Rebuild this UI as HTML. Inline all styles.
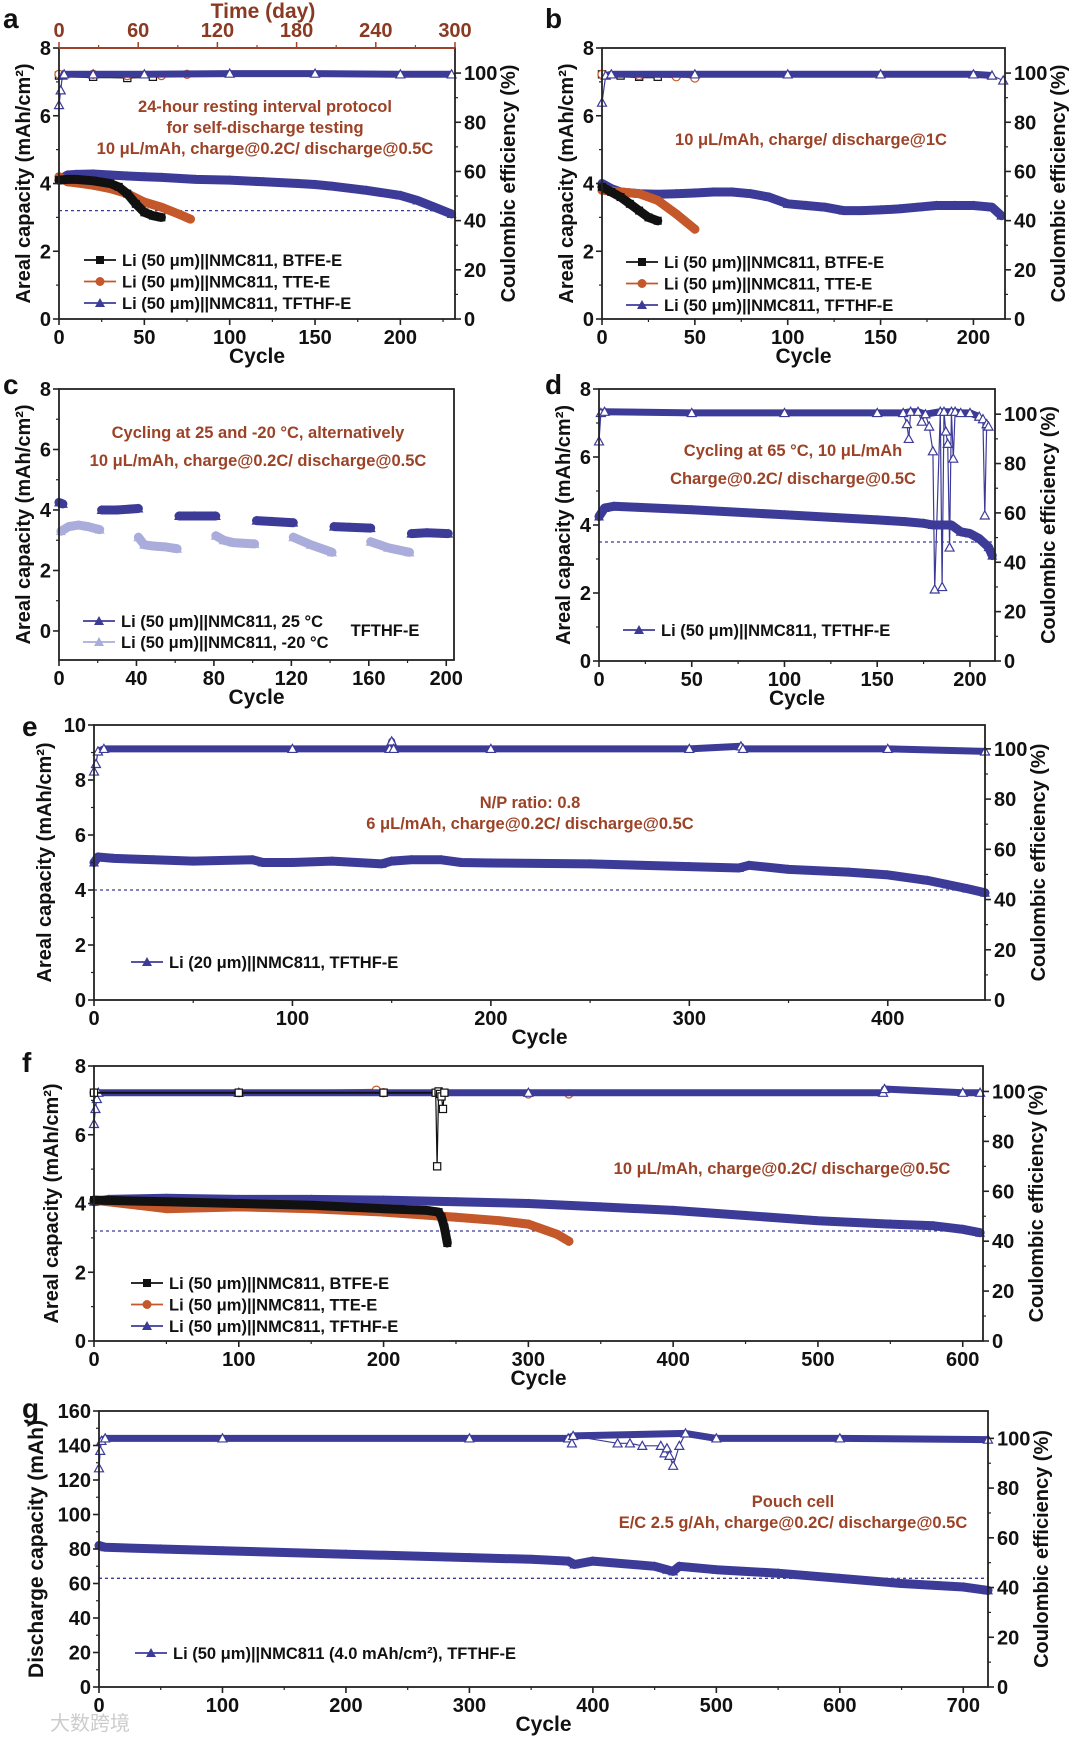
<!DOCTYPE html>
<html><head><meta charset="utf-8">
<style>
html,body{margin:0;padding:0;background:#fff;}
svg{display:block;font-family:"Liberation Sans","Noto Sans CJK SC",sans-serif;}
</style></head>
<body>
<svg id="fig" xmlns="http://www.w3.org/2000/svg" width="1080" height="1737" viewBox="0 0 1080 1737"></svg>
<script>
// ---------- DATA ----------
// panel a
const aT_c=[0,5,10,20,30,40,50,60,80,100,120,140,150,160,180,200,210,220,230];
const aT_v=[4.1,4.25,4.27,4.28,4.25,4.22,4.2,4.18,4.12,4.1,4.05,4.0,3.97,3.92,3.8,3.65,3.5,3.3,3.1];
const aB_c=[0,5,10,20,30,35,40,45,50,55,60];
const aB_v=[4.1,4.12,4.12,4.08,4.0,3.9,3.7,3.4,3.15,3.05,3.0];
const aE_c=[0,5,10,20,30,40,50,60,70,77];
const aE_v=[4.2,4.05,4.02,3.95,3.85,3.7,3.45,3.3,3.1,2.95];
const aCT_c=[0,1,2,3,20,50,100,150,200,230];
const aCT_v=[87,93,99,99.5,99.5,99.5,99.8,99.8,99.5,99.5];
const aCB_c=[0,20,40,55];
const aCB_v=[99,98.5,98,98.5];
const aCE_c=[0,20,40,60,75];
const aCE_v=[99.5,99.5,99,99,99.5];
const aTimeTicks=[0,60,120,180,240,300];
// panel b
const bT_c=[0,5,10,20,30,40,50,60,70,80,90,100,110,120,130,140,150,160,170,180,190,200,210,215];
const bT_v=[4.0,3.85,3.75,3.7,3.68,3.7,3.72,3.75,3.75,3.7,3.6,3.4,3.35,3.3,3.2,3.2,3.22,3.25,3.3,3.35,3.35,3.35,3.3,3.05];
const bB_c=[0,5,10,15,20,25,30];
const bB_v=[3.9,3.75,3.6,3.4,3.2,3.0,2.9];
const bE_c=[0,10,20,30,40,50];
const bE_v=[3.8,3.75,3.7,3.5,3.1,2.65];
const bCT_c=[0,2,5,50,100,150,200,210,216];
const bCT_v=[88,99,99.5,99.5,99.5,99.5,99.5,99,97];
const bCB_c=[0,10,20,30];
const bCB_v=[99.5,99,98.5,98.5];
const bCE_c=[0,20,40,50];
const bCE_v=[99.5,99,98.5,98];
// panel c (null = break between temperature blocks)
const cD_c=[0,2,null,22,30,41,null,62,70,81,null,102,110,121,null,142,150,161,null,182,190,201];
const cD_v=[4.25,4.2,null,4.0,4.0,4.05,null,3.8,3.8,3.8,null,3.65,3.62,3.58,null,3.45,3.43,3.4,null,3.22,3.25,3.22];
const cL_c=[1,5,10,15,21,null,41,44,50,55,61,null,81,85,90,95,101,null,121,130,141,null,161,170,181];
const cL_v=[3.3,3.45,3.5,3.45,3.35,null,3.1,2.85,2.8,2.78,2.72,null,3.15,3.0,2.92,2.9,2.88,null,3.1,2.85,2.6,null,2.95,2.75,2.6];
// panel d
const dT_c=[0,3,8,20,50,100,150,165,175,180,185,190,195,200,205,210,212];
const dT_v=[4.25,4.5,4.55,4.52,4.45,4.3,4.15,4.1,4.05,4.0,4.0,4.0,3.8,3.75,3.6,3.35,3.1];
const dCT_c=[0,1,3,50,100,150,164,166,167,168,172,174,176,178,180,181,184,185,186,187,188,189,190,191,192,195,200,205,207,208,209,210];
const dCT_v=[89,100.5,101,100.5,100.5,100.5,100.5,96,90,101,101,97,100,95,85,29,101,30,101,93,88,46,101,82,101,100.5,100.5,99,98,59,96,95];
// panel e
const eT_c=[0,2,10,30,50,80,85,100,120,145,150,160,175,185,200,250,300,325,330,350,380,400,420,430,440,449];
const eT_v=[5.0,5.2,5.15,5.1,5.05,5.1,5.0,5.0,5.05,4.95,5.05,5.1,5.1,5.0,4.98,4.95,4.85,4.8,4.9,4.75,4.65,4.55,4.35,4.2,4.05,3.9];
const eCT_c=[0,1,2,5,100,149,150,151,200,300,326,327,400,449];
const eCT_v=[91,94,99,100,100,100,103,100,100,100,101,100,100,99];
// panel f
const fT_c=[0,10,50,100,150,200,250,300,350,400,450,500,550,580,600,612];
const fT_v=[4.05,4.12,4.15,4.12,4.12,4.1,4.05,4.0,3.9,3.8,3.65,3.5,3.4,3.35,3.25,3.15];
const fB_c=[0,50,100,150,200,230,238,240,242,244];
const fB_v=[4.1,4.05,4.0,3.95,3.85,3.8,3.75,3.6,3.3,2.85];
const fE_c=[0,30,50,100,150,200,250,280,300,320,328];
const fE_v=[4.1,3.95,3.85,3.9,3.85,3.75,3.6,3.5,3.4,3.1,2.9];
const fCT_c=[0,1,2,3,100,300,545,546,600,612];
const fCT_v=[87,93,97,99.5,99.5,99.5,99.5,101,99.5,99.5];
const fCB_c=[0,100,200,236,237,238,239,240,241,242];
const fCB_v=[99.5,99.5,99.5,99.5,70,100,99,98,93,99.5];
const fCE_c=[0,100,195,200,300,328];
const fCE_v=[99.5,99.5,100.5,99.5,99,99];
// panel g
const gT_c=[0,5,50,100,200,300,350,380,385,400,450,460,465,470,500,550,600,650,700,720];
const gT_v=[82,81,80,79,77,75,74,73,71,73,70,68,67,70,68,66,63,60,58,56];
const gCT_c=[0,1,2,5,100,300,380,383,384,420,430,440,455,458,460,462,465,470,475,500,600,720];
const gCT_v=[88,95,99,100,100,100,100,98,101,98,98,97,97,94,96,93,89,97,102,100,100,99.5];

// ---------- DRAWING ----------
const NS="http://www.w3.org/2000/svg";
const svg=document.getElementById('fig');
const NAVY="#3d3b98", LIGHT="#aaaddb", ORANGE="#c4582a", BLACK="#111", BROWN="#9c4327";
function mk(tag,attrs,parent){const e=document.createElementNS(NS,tag);for(const k in attrs)e.setAttribute(k,attrs[k]);(parent||svg).appendChild(e);return e;}
function txt(s,x,y,size,anchor,fill,parent,extra){const t=mk('text',Object.assign({x:x,y:y,'font-size':size,'font-weight':'bold','text-anchor':anchor||'middle',fill:fill||'#111'},extra||{}),parent);t.textContent=s;return t;}
function marker(shape,x,y,r,color,hollow,g){
  let e;
  if(shape==='tri') e=mk('path',{d:`M${x} ${y-r}L${x+r} ${y+r*0.8}L${x-r} ${y+r*0.8}Z`},g);
  else if(shape==='sq') e=mk('rect',{x:x-r*0.8,y:y-r*0.8,width:r*1.6,height:r*1.6},g);
  else e=mk('circle',{cx:x,cy:y,r:r*0.9},g);
  if(hollow){e.setAttribute('fill','#fff');e.setAttribute('stroke',color);e.setAttribute('stroke-width',1.2);}
  else e.setAttribute('fill',color);
  return e;
}
function pathFrom(cs,vs,sx,sy){let d='',pen=false;for(let i=0;i<cs.length;i++){if(cs[i]===null){pen=false;continue;}d+=(pen?'L':'M')+sx(cs[i]).toFixed(1)+' '+sy(vs[i]).toFixed(1);pen=true;}return d;}

function panel(p){
  const g=mk('g',{});
  
  
  const {x0,x1,y0,y1}=p.box;
  const sx=v=>x0+(v-0)/(p.xmax)*(x1-x0);
  const sy=v=>y1-(v-p.ymin)/(p.ymax-p.ymin)*(y1-y0);
  const sr=v=>y1-v/p.rmax*(y1-y0);
  if(p.dash!==undefined){const l=mk('line',{x1:x0,x2:x1,y1:sy(p.dash),y2:sy(p.dash),stroke:NAVY,'stroke-width':1.3,'stroke-dasharray':'3,3'},g);
    }
  (p.ce||[]).forEach(s=>{
    const sg=mk('g',{},g);
    
    
    mk('path',{d:pathFrom(s.c,s.v,sx,sr),fill:'none',stroke:s.color,'stroke-width':1.2},sg);
    mk('path',{d:pathFrom(s.c.filter((c,i)=>s.v[i]>98),s.v.filter(v=>v>98),sx,sr),fill:'none',stroke:s.color,'stroke-width':s.w||7,'stroke-linejoin':'round'},sg);
    s.c.forEach((c,i)=>{if(c!==null)marker(s.shape,sx(c),sr(s.v[i]),4.5,s.color,true,sg);});
  });
  (p.cap||[]).forEach(s=>{
    const sg=mk('g',{},g);
    
    
    mk('path',{d:pathFrom(s.c,s.v,sx,sy),fill:'none',stroke:s.color,'stroke-width':s.w||9,'stroke-linejoin':'round','stroke-linecap':'round'},sg);
    s.c.forEach((c,i)=>{if(c!==null)marker(s.shape,sx(c),sy(s.v[i]),5,s.color,false,sg);});
  });
  const fr=mk('rect',{x:x0,y:y0,width:x1-x0,height:y1-y0,fill:'none',stroke:'#222','stroke-width':1.8},g);
  
  if(p.topColor){mk('line',{x1:x0,x2:x1,y1:y0,y2:y0,stroke:p.topColor,'stroke-width':2},g);}
  const fs=p.fs||20;
  p.yticks.forEach((t,i)=>{
    const y=sy(t);
    mk('line',{x1:x0-6,x2:x0,y1:y,y2:y,stroke:'#222','stroke-width':1.6},g);
    const lb=txt(String(t),x0-8,y+7,fs,'end','#111',g);
    
    if(i<p.yticks.length-1){const m=(t+p.yticks[i+1])/2;mk('line',{x1:x0-3,x2:x0,y1:sy(m),y2:sy(m),stroke:'#222','stroke-width':1.2},g);}
  });
  p.xticks.forEach((t,i)=>{
    const x=sx(t);
    mk('line',{x1:x,x2:x,y1:y1,y2:y1+6,stroke:'#222','stroke-width':1.6},g);
    const lb=txt(String(t),x,y1+25,fs,'middle','#111',g);
    
    const step=p.xticks[1]-p.xticks[0];const m=t+step/2;
    if(m<p.xmax)mk('line',{x1:sx(m),x2:sx(m),y1:y1,y2:y1+3,stroke:'#222','stroke-width':1.2},g);
  });
  const xt=txt('Cycle',(x0+x1)/2,y1+44,21,'middle','#111',g);
  
  const ytx=x0-p.ytOff;
  const yt=txt(p.ytitle,ytx,(y0+y1)/2,p.ytSize||20,'middle','#111',g,{transform:`rotate(-90 ${ytx} ${(y0+y1)/2})`});
  
  if(p.rmax){
    [0,20,40,60,80,100].forEach(t=>{
      const y=sr(t);
      mk('line',{x1:x1,x2:x1+6,y1:y,y2:y,stroke:'#222','stroke-width':1.6},g);
      const lb=txt(String(t),x1+9,y+7,fs,'start','#111',g);
      
      if(t<100)mk('line',{x1:x1,x2:x1+3,y1:sr(t+10),y2:sr(t+10),stroke:'#222','stroke-width':1.2},g);
    });
    const rx=x1+60;
    const rt=txt('Coulombic efficiency (%)',rx,(y0+y1)/2,20,'middle','#111',g,{transform:`rotate(-90 ${rx} ${(y0+y1)/2})`});
    
  }
  (p.notes||[]).forEach(n=>{const t=txt(n[0],n[1],n[2],16.5,'middle',BROWN,g);
    });
  (p.legend||[]).forEach(L=>{
    const lg=mk('g',{},g);
    
    
    mk('line',{x1:L.x,x2:L.x+32,y1:L.y,y2:L.y,stroke:L.color,'stroke-width':1.8},lg);
    marker(L.shape,L.x+16,L.y,5,L.color,false,lg);
    txt(L.text,L.x+38,L.y+6,16.5,'start','#111',lg);
  });
  const le=txt(p.letter,p.lx,p.ly,28,'start','#111',g);
  
  return {sx,sy,sr,g};
}
function leg(x,y0,dy,items){return items.map((it,i)=>({x:x,y:y0+i*dy,color:it[0],shape:it[1],text:it[2]}));}
const AREAL='Areal capacity (mAh/cm²)';
const L3=(x,y)=>leg(x,y,21.5,[[BLACK,'sq','Li (50 μm)||NMC811, BTFE-E'],[ORANGE,'ci','Li (50 μm)||NMC811, TTE-E'],[NAVY,'tri','Li (50 μm)||NMC811, TFTHF-E']]);

panel({name:'panel-a',letter:'a',lx:3,ly:28,box:{x0:59,x1:455,y0:48,y1:319},xmax:232,ymin:0,ymax:8,rmax:110.2,
  yticks:[0,2,4,6,8],xticks:[0,50,100,150,200],ytitle:AREAL,ytOff:29,dash:3.2,topColor:'#a0412a',
  ce:[{name:'ce-btfe',c:aCB_c,v:aCB_v,color:BLACK,shape:'sq',w:3},{name:'ce-tte',c:aCE_c,v:aCE_v,color:ORANGE,shape:'ci',w:3},{name:'ce-tfthf',c:aCT_c,v:aCT_v,color:NAVY,shape:'tri'}],
  cap:[{name:'cap-tfthf',c:aT_c,v:aT_v,color:NAVY,shape:'tri'},{name:'cap-tte',c:aE_c,v:aE_v,color:ORANGE,shape:'ci'},{name:'cap-btfe',c:aB_c,v:aB_v,color:BLACK,shape:'sq'}],
  notes:[['24-hour resting interval protocol',265,112],['for self-discharge testing',265,133],['10 μL/mAh, charge@0.2C/ discharge@0.5C',265,154]],
  legend:L3(84,260)});
(function(){const x0=59,x1=455,y=48;
  aTimeTicks.forEach((t,i)=>{const x=x0+t/300*(x1-x0);
    mk('line',{x1:x,x2:x,y1:y,y2:y-6,stroke:'#a0412a','stroke-width':1.5});
    const lb=txt(String(t),x,y-11,20,'middle','#8a3a22');
    
    if(i<aTimeTicks.length-1){const m=x0+(t+30)/300*(x1-x0);mk('line',{x1:m,x2:m,y1:y,y2:y-3,stroke:'#a0412a','stroke-width':1.2});}
  });
  const tt=txt('Time (day)',263,18,21,'middle','#8a3a22');
  
})();
panel({name:'panel-b',letter:'b',lx:545,ly:28,box:{x0:602,x1:1005,y0:48,y1:319},xmax:217,ymin:0,ymax:8,rmax:110.2,
  yticks:[0,2,4,6,8],xticks:[0,50,100,150,200],ytitle:AREAL,ytOff:29,
  ce:[{name:'ce-btfe',c:bCB_c,v:bCB_v,color:BLACK,shape:'sq',w:3},{name:'ce-tte',c:bCE_c,v:bCE_v,color:ORANGE,shape:'ci',w:3},{name:'ce-tfthf',c:bCT_c,v:bCT_v,color:NAVY,shape:'tri'}],
  cap:[{name:'cap-tfthf',c:bT_c,v:bT_v,color:NAVY,shape:'tri'},{name:'cap-tte',c:bE_c,v:bE_v,color:ORANGE,shape:'ci'},{name:'cap-btfe',c:bB_c,v:bB_v,color:BLACK,shape:'sq'}],
  notes:[['10 μL/mAh, charge/ discharge@1C',811,145]],
  legend:L3(626,262)});
panel({name:'panel-c',letter:'c',lx:3,ly:394,box:{x0:59,x1:454,y0:389,y1:660},xmax:204,ymin:-0.96,ymax:8,
  yticks:[0,2,4,6,8],xticks:[0,40,80,120,160,200],ytitle:AREAL,ytOff:29,
  cap:[{name:'cap-minus20C',c:cL_c,v:cL_v,color:LIGHT,shape:'tri'},{name:'cap-25C',c:cD_c,v:cD_v,color:NAVY,shape:'tri'}],
  notes:[['Cycling at 25 and -20 °C, alternatively',258,438],['10 μL/mAh, charge@0.2C/ discharge@0.5C',258,466]],
  legend:leg(83,621,21,[[NAVY,'tri','Li (50 μm)||NMC811, 25 °C'],[LIGHT,'tri','Li (50 μm)||NMC811, -20 °C']])});
(function(){const t=txt('TFTHF-E',385,636,16.5,'middle','#111');})();
panel({name:'panel-d',letter:'d',lx:545,ly:394,box:{x0:599,x1:995,y0:389,y1:661},xmax:213.5,ymin:0,ymax:8,rmax:110.2,
  yticks:[0,2,4,6,8],xticks:[0,50,100,150,200],ytitle:AREAL,ytOff:29,dash:3.5,
  ce:[{name:'ce-tfthf',c:dCT_c,v:dCT_v,color:NAVY,shape:'tri'}],
  cap:[{name:'cap-tfthf',c:dT_c,v:dT_v,color:NAVY,shape:'tri'}],
  notes:[['Cycling at 65 °C, 10 μL/mAh',793,456],['Charge@0.2C/ discharge@0.5C',793,484]],
  legend:leg(623,630,21,[[NAVY,'tri','Li (50 μm)||NMC811, TFTHF-E']])});
panel({name:'panel-e',letter:'e',lx:22,ly:736,box:{x0:94,x1:985,y0:725,y1:1000},xmax:449,ymin:0,ymax:10,rmax:109.5,
  yticks:[0,2,4,6,8,10],xticks:[0,100,200,300,400],ytitle:AREAL,ytOff:43,dash:4.0,
  ce:[{name:'ce-tfthf',c:eCT_c,v:eCT_v,color:NAVY,shape:'tri'}],
  cap:[{name:'cap-tfthf',c:eT_c,v:eT_v,color:NAVY,shape:'tri'}],
  notes:[['N/P ratio: 0.8',530,808],['6 μL/mAh, charge@0.2C/ discharge@0.5C',530,829]],
  legend:leg(131,962,21,[[NAVY,'tri','Li (20 μm)||NMC811, TFTHF-E']])});
panel({name:'panel-f',letter:'f',lx:22,ly:1072,box:{x0:94,x1:983,y0:1066,y1:1341},xmax:614,ymin:0,ymax:8,rmax:110.2,
  yticks:[0,2,4,6,8],xticks:[0,100,200,300,400,500,600],ytitle:AREAL,ytOff:36,dash:3.2,
  ce:[{name:'ce-tte',c:fCE_c,v:fCE_v,color:ORANGE,shape:'ci',w:3},{name:'ce-tfthf',c:fCT_c,v:fCT_v,color:NAVY,shape:'tri'},{name:'ce-btfe',c:fCB_c,v:fCB_v,color:BLACK,shape:'sq',w:2}],
  cap:[{name:'cap-tfthf',c:fT_c,v:fT_v,color:NAVY,shape:'tri'},{name:'cap-tte',c:fE_c,v:fE_v,color:ORANGE,shape:'ci'},{name:'cap-btfe',c:fB_c,v:fB_v,color:BLACK,shape:'sq'}],
  notes:[['10 μL/mAh, charge@0.2C/ discharge@0.5C',782,1174]],
  legend:L3(131,1283)});
panel({name:'panel-g',letter:'g',lx:22,ly:1418,box:{x0:99,x1:988,y0:1411,y1:1687},xmax:720,ymin:0,ymax:160,rmax:111,
  yticks:[0,20,40,60,80,100,120,140,160],xticks:[0,100,200,300,400,500,600,700],ytitle:'Discharge capacity (mAh)',ytOff:56,ytSize:21,dash:63,
  ce:[{name:'ce-tfthf',c:gCT_c,v:gCT_v,color:NAVY,shape:'tri'}],
  cap:[{name:'cap-tfthf',c:gT_c,v:gT_v,color:NAVY,shape:'tri'}],
  notes:[['Pouch cell',793,1507],['E/C 2.5 g/Ah, charge@0.2C/ discharge@0.5C',793,1528]],
  legend:leg(135,1653,21,[[NAVY,'tri','Li (50 μm)||NMC811 (4.0 mAh/cm²), TFTHF-E']])});
(function(){const t=txt('大数跨境',50,1730,20,'start','#ccc');t.setAttribute('font-weight','normal');})();
</script>
</body></html>
